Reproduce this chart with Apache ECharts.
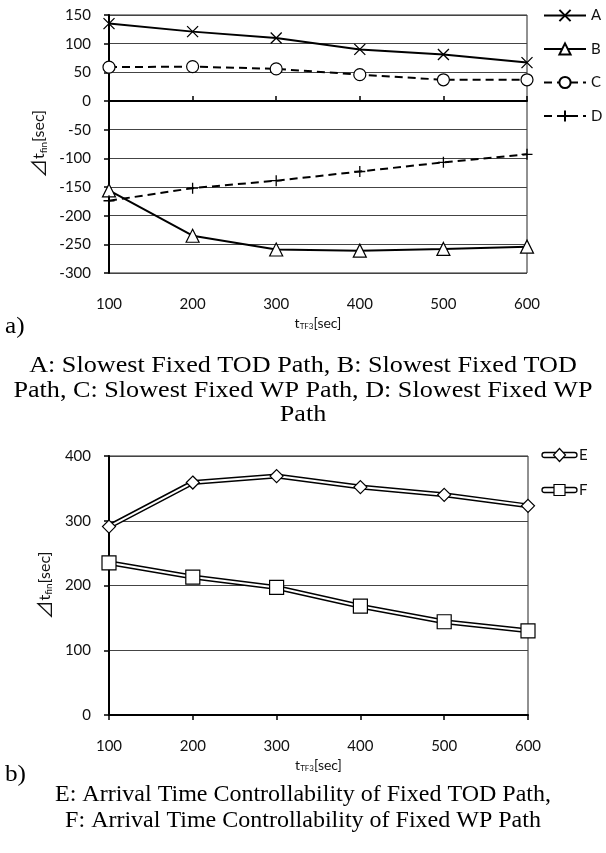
<!DOCTYPE html>
<html>
<head>
<meta charset="utf-8">
<script src="https://cdn.jsdelivr.net/npm/echarts@6/dist/echarts.min.js"></script>
<style>
  html, body { margin: 0; padding: 0; background: #fff; }
  #chart { width: 606px; height: 853px; }
</style>
</head>
<body>
<div id="chart"></div>
<script>
// t_TF3 sample points [sec]
const tTF3 = [100, 200, 300, 400, 500, 600];

// Panel a): change of final arrival time [sec]
const pathA = [135, 121, 110, 90, 81, 67];
const pathB = [-156, -235, -259, -261, -258, -254];
const pathC = [59, 60, 56, 46, 37, 37];
const pathD = [-174, -152, -139, -123, -107, -93];

// Panel b): arrival time controllability [sec]
const pathE = [291, 359, 369, 352, 340, 323];
const pathF = [235, 213, 197, 168, 144, 130];

// Axis tick labels
const yTicksA = [-300, -250, -200, -150, -100, -50, 0, 50, 100, 150];
const yTicksB = [0, 100, 200, 300, 400];

const captionA = ['A: Slowest Fixed TOD Path, B: Slowest Fixed TOD',
                  'Path, C: Slowest Fixed WP Path, D: Slowest Fixed WP',
                  'Path'];
const captionB = ['E: Arrival Time Controllability of Fixed TOD Path,',
                  'F: Arrival Time Controllability of Fixed WP Path'];

const pair = (ys) => tTF3.map((x, i) => [x, ys[i]]);

const SANS = 'Lato, "Open Sans", sans-serif';
const SERIF = '"Liberation Serif", "Times New Roman", serif';
const INK = '#111';

const CROSS = 'path://M0,0L10,10M10,0L0,10';
const PLUS = 'path://M5,0L5,10M0,5L10,5';

const yTitle = {
  formatter: '{d|⊿}{t|t}{s|fin}{t|[sec]}',
  rich: {
    d: { fontSize: 19, fontFamily: '"Noto Sans CJK JP", sans-serif', color: INK },
    t: { fontSize: 16, fontFamily: SANS, color: INK },
    s: { fontSize: 10, fontFamily: SANS, color: INK, verticalAlign: 'bottom', padding: [7, 0, 0, 0] }
  }
};
const xTitleRich = {
  t: { fontSize: 14, fontFamily: SANS, color: INK },
  s: { fontSize: 8, fontFamily: SANS, color: INK, verticalAlign: 'bottom', padding: [6, 0, 0, 0] }
};

function valueY(ticks, gridIndex) {
  return {
    type: 'value', gridIndex,
    min: ticks[0], max: ticks[ticks.length - 1], interval: ticks[1] - ticks[0],
    axisLine: { show: true, onZero: false, lineStyle: { color: '#000', width: 2 } },
    axisTick: { show: true, length: 5, lineStyle: { color: '#000', width: 1.5 } },
    axisLabel: { margin: 18, fontSize: 15, fontFamily: SANS, color: INK },
    splitLine: { show: true, lineStyle: { color: '#444', width: 1 } },
    name: yTitle.formatter, nameLocation: 'middle', nameRotate: 90, nameGap: 52,
    nameTextStyle: { rich: yTitle.rich }
  };
}

function labelX(gridIndex, withLine) {
  return {
    type: 'value', gridIndex,
    min: tTF3[0], max: tTF3[tTF3.length - 1], interval: tTF3[1] - tTF3[0],
    axisLine: { show: withLine, onZero: false, lineStyle: { color: '#000', width: 2 } },
    axisTick: { show: withLine, length: 5, lineStyle: { color: '#000', width: 1.5 } },
    axisLabel: { margin: 24, fontSize: 15, fontFamily: SANS, color: INK },
    splitLine: { show: false },
    name: '{t|t}{s|TF3}{t|[sec]}', nameLocation: 'middle', nameGap: 43,
    nameTextStyle: { rich: xTitleRich }
  };
}

const solid = { color: '#000', width: 2 };
const dashed = { color: '#000', width: 2, type: [8, 5] };
const hollow = { color: '#fff', borderColor: '#000', borderWidth: 1.2 };
const stroked = { color: '#000', borderColor: '#000', borderWidth: 1.3 };

// Caption lines, centred on the page
function caption(lines, yCentre, step, widen) {
  return lines.map((t, i) => ({
    type: 'text', x: 303, y: yCentre + i * step, scaleX: widen,
    style: { text: t, x: 0, y: 0, font: '24px ' + SERIF, fill: '#000',
             align: 'center', verticalAlign: 'middle' }
  }));
}

function doubleLegend(label, symbol, y) {
  const items = [
    { type: 'rect', shape: { x: 542, y: y - 2.5, width: 35, height: 5, r: 2.5 },
      style: { fill: '#fff', stroke: '#000', lineWidth: 1.3 } },
    { type: 'text', style: { text: label, x: 579, y: y, font: '15px ' + SANS, fill: INK, verticalAlign: 'middle' } }
  ];
  if (symbol === 'diamond') {
    items.push({ type: 'polygon', shape: { points: [[559.5, y - 6.5], [565.5, y], [559.5, y + 6.5], [553.5, y]] },
      style: { fill: '#fff', stroke: '#000', lineWidth: 1.2 } });
  } else {
    items.push({ type: 'rect', shape: { x: 554, y: y - 5.5, width: 11, height: 11 },
      style: { fill: '#fff', stroke: '#000', lineWidth: 1.2 } });
  }
  return items;
}

const option = {
  animation: false,
  backgroundColor: '#fff',
  grid: [
    { left: 109, top: 15, width: 418, height: 258, show: true, borderColor: '#222', borderWidth: 1 },
    { left: 109, top: 456, width: 419, height: 259, show: true, borderColor: '#222', borderWidth: 1 }
  ],
  xAxis: [
    labelX(0, false),
    // zero line of panel a) with its ticks
    Object.assign(labelX(0, true), {
      axisLine: { show: true, onZero: true, lineStyle: { color: '#000', width: 2 } },
      axisLabel: { show: false }, name: ''
    }),
    labelX(1, true)
  ],
  yAxis: [valueY(yTicksA, 0), valueY(yTicksB, 1)],
  legend: {
    orient: 'vertical', left: 543, top: 8, padding: 0,
    itemWidth: 42, itemHeight: 14, itemGap: 18.5,
    textStyle: { fontSize: 15, fontFamily: SANS, color: INK },
    data: ['A', 'B', 'C', 'D']
  },
  series: [
    { name: 'A', type: 'line', xAxisIndex: 0, yAxisIndex: 0, data: pair(pathA),
      symbol: CROSS, symbolSize: 11, lineStyle: solid, itemStyle: stroked },
    { name: 'B', type: 'line', xAxisIndex: 0, yAxisIndex: 0, data: pair(pathB),
      symbol: 'triangle', symbolSize: 13, lineStyle: solid, itemStyle: hollow },
    { name: 'C', type: 'line', xAxisIndex: 0, yAxisIndex: 0, data: pair(pathC),
      symbol: 'circle', symbolSize: 12, lineStyle: dashed, itemStyle: hollow },
    { name: 'D', type: 'line', xAxisIndex: 0, yAxisIndex: 0, data: pair(pathD),
      symbol: PLUS, symbolSize: 11, lineStyle: dashed, itemStyle: stroked },
    // panel b): double-stroked lines (black casing + white core)
    { name: 'E-casing', type: 'line', xAxisIndex: 2, yAxisIndex: 1, data: pair(pathE),
      symbol: 'none', lineStyle: { color: '#000', width: 5 }, z: 2 },
    { name: 'E', type: 'line', xAxisIndex: 2, yAxisIndex: 1, data: pair(pathE),
      symbol: 'diamond', symbolSize: 13, lineStyle: { color: '#fff', width: 2 }, itemStyle: hollow, z: 3 },
    { name: 'F-casing', type: 'line', xAxisIndex: 2, yAxisIndex: 1, data: pair(pathF),
      symbol: 'none', lineStyle: { color: '#000', width: 5 }, z: 2 },
    { name: 'F', type: 'line', xAxisIndex: 2, yAxisIndex: 1, data: pair(pathF),
      symbol: 'rect', symbolSize: 14, lineStyle: { color: '#fff', width: 2 }, itemStyle: hollow, z: 3 }
  ],
  graphic: [
    { type: 'text', x: 5, y: 327, scaleX: 1.05,
      style: { text: 'a)', x: 0, y: 0, font: '24px ' + SERIF, fill: '#000', verticalAlign: 'middle' } },
    { type: 'text', x: 5, y: 775, scaleX: 1.05,
      style: { text: 'b)', x: 0, y: 0, font: '24px ' + SERIF, fill: '#000', verticalAlign: 'middle' } },
    ...caption(captionA, 366, 24.5, 1.09),
    ...caption(captionB, 795, 26, 1.0),
    ...doubleLegend('E', 'diamond', 455),
    ...doubleLegend('F', 'square', 490)
  ]
};

const chart = echarts.init(document.getElementById('chart'), null, { renderer: 'canvas' });
chart.setOption(option);
</script>
</body>
</html>
